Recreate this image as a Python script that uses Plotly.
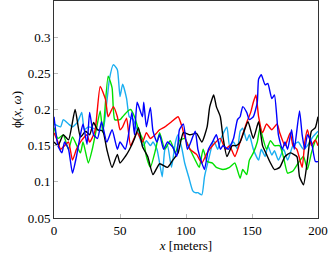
import plotly.graph_objects as go

# ---- data ----
x_black = [0, 3, 7, 11, 16, 20, 24, 27, 30, 33, 37, 40, 44, 48, 50, 54, 57, 61, 64, 67, 71, 75, 80, 86, 90, 94, 98, 103, 108, 112, 116, 118, 121, 123, 126, 128, 131, 135, 138, 141, 144, 147, 151, 155, 158, 161, 164, 167, 171, 175, 179, 184, 186, 189, 192, 195, 198, 200]
y_black = [0.155, 0.15, 0.165, 0.158, 0.2, 0.162, 0.17, 0.165, 0.182, 0.172, 0.17, 0.145, 0.12, 0.138, 0.126, 0.135, 0.144, 0.16, 0.175, 0.149, 0.135, 0.11, 0.125, 0.12, 0.13, 0.14, 0.168, 0.165, 0.167, 0.155, 0.176, 0.204, 0.22, 0.204, 0.19, 0.162, 0.135, 0.15, 0.15, 0.155, 0.17, 0.183, 0.16, 0.183, 0.15, 0.138, 0.126, 0.117, 0.12, 0.135, 0.14, 0.135, 0.107, 0.096, 0.13, 0.17, 0.175, 0.19]

x_red = [0, 3, 5, 8, 11, 14, 17, 20, 25, 27, 31, 35, 39, 41, 45, 48, 50, 52, 55, 58, 63, 67, 70, 73, 77, 80, 84, 89, 94, 97, 99, 103, 108, 112, 116, 121, 126, 130, 133, 137, 141, 146, 149, 151, 153, 155, 158, 161, 165, 169, 171, 175, 179, 181, 184, 188, 190, 192, 195, 198, 200]
y_red = [0.168, 0.155, 0.145, 0.15, 0.155, 0.13, 0.145, 0.155, 0.165, 0.155, 0.17, 0.232, 0.214, 0.19, 0.204, 0.19, 0.172, 0.176, 0.188, 0.15, 0.168, 0.155, 0.168, 0.16, 0.166, 0.172, 0.176, 0.183, 0.19, 0.176, 0.162, 0.145, 0.138, 0.126, 0.14, 0.152, 0.16, 0.145, 0.15, 0.135, 0.155, 0.182, 0.196, 0.21, 0.22, 0.19, 0.168, 0.18, 0.172, 0.18, 0.168, 0.15, 0.168, 0.15, 0.145, 0.12, 0.155, 0.172, 0.15, 0.158, 0.15]

x_green = [0, 3, 7, 11, 14, 20, 22, 26, 29, 32, 35, 37, 41, 44, 46, 50, 52, 56, 58, 61, 64, 68, 70, 73, 77, 80, 84, 88, 92, 95, 99, 103, 107, 110, 113, 116, 120, 123, 128, 133, 137, 141, 143, 146, 148, 151, 154, 156, 158, 161, 164, 167, 171, 174, 177, 181, 185, 189, 192, 195, 198, 200]
y_green = [0.175, 0.16, 0.165, 0.145, 0.162, 0.14, 0.155, 0.126, 0.145, 0.172, 0.198, 0.168, 0.246, 0.23, 0.186, 0.186, 0.19, 0.198, 0.2, 0.19, 0.172, 0.155, 0.135, 0.12, 0.145, 0.168, 0.145, 0.157, 0.14, 0.157, 0.16, 0.145, 0.13, 0.12, 0.145, 0.128, 0.126, 0.12, 0.117, 0.12, 0.126, 0.105, 0.117, 0.11, 0.13, 0.14, 0.155, 0.175, 0.162, 0.145, 0.157, 0.15, 0.15, 0.133, 0.112, 0.115, 0.126, 0.135, 0.117, 0.14, 0.157, 0.165]

x_blue = [0, 3, 6, 8, 11, 14, 17, 20, 22, 25, 27, 30, 33, 36, 40, 44, 48, 50, 54, 56, 59, 61, 63, 67, 68, 70, 73, 75, 78, 80, 83, 86, 90, 93, 95, 98, 101, 103, 107, 109, 112, 114, 117, 120, 123, 126, 128, 132, 136, 139, 141, 143, 146, 148, 151, 154, 155, 157, 160, 162, 165, 167, 170, 173, 175, 177, 180, 182, 186, 188, 190, 192, 195, 198, 200]
y_blue = [0.19, 0.15, 0.14, 0.155, 0.145, 0.112, 0.135, 0.165, 0.18, 0.152, 0.196, 0.165, 0.16, 0.183, 0.155, 0.172, 0.145, 0.155, 0.145, 0.16, 0.196, 0.165, 0.21, 0.19, 0.21, 0.176, 0.203, 0.17, 0.155, 0.165, 0.145, 0.155, 0.148, 0.135, 0.172, 0.18, 0.145, 0.152, 0.17, 0.145, 0.126, 0.117, 0.145, 0.155, 0.165, 0.145, 0.15, 0.145, 0.16, 0.186, 0.19, 0.204, 0.196, 0.186, 0.19, 0.21, 0.242, 0.248, 0.234, 0.236, 0.215, 0.22, 0.165, 0.145, 0.155, 0.145, 0.172, 0.145, 0.198, 0.165, 0.145, 0.165, 0.155, 0.128, 0.128]

x_cyan = [0, 5, 7, 11, 14, 18, 21, 23, 26, 30, 33, 37, 40, 42, 45, 48, 50, 52, 55, 57, 60, 63, 66, 68, 70, 73, 75, 78, 80, 82, 84, 86, 89, 92, 94, 97, 99, 102, 105, 107, 109, 112, 114, 117, 121, 124, 127, 131, 133, 136, 139, 141, 143, 146, 148, 151, 155, 157, 160, 162, 165, 167, 170, 174, 177, 181, 185, 189, 192, 196, 200]
y_cyan = [0.18, 0.176, 0.186, 0.18, 0.176, 0.183, 0.196, 0.172, 0.176, 0.174, 0.172, 0.172, 0.21, 0.242, 0.262, 0.255, 0.218, 0.235, 0.215, 0.19, 0.186, 0.172, 0.155, 0.15, 0.157, 0.15, 0.155, 0.145, 0.126, 0.107, 0.145, 0.15, 0.12, 0.155, 0.165, 0.145, 0.126, 0.107, 0.088, 0.085, 0.085, 0.082, 0.107, 0.13, 0.157, 0.145, 0.162, 0.176, 0.15, 0.155, 0.145, 0.17, 0.174, 0.157, 0.165, 0.145, 0.13, 0.145, 0.135, 0.15, 0.137, 0.143, 0.13, 0.145, 0.13, 0.15, 0.155, 0.145, 0.15, 0.162, 0.17]

x_ticks = [0, 50, 100, 150, 200]
y_ticks = [0.05, 0.1, 0.15, 0.2, 0.25, 0.3]
y_tick_text = ["0.05", "0.1", "0.15", "0.2", "0.25", "0.3"]

series = [
    (x_cyan, y_cyan, "#1aaef0"),
    (x_green, y_green, "#00e000"),
    (x_red, y_red, "#ff0000"),
    (x_black, y_black, "#000000"),
    (x_blue, y_blue, "#0000ff"),
]

fig = go.Figure()
for xs, ys, col in series:
    fig.add_trace(go.Scatter(x=xs, y=ys, mode="lines",
                             line=dict(color=col, width=1.4, shape="spline", smoothing=0.5),
                             showlegend=False, hoverinfo="skip"))

font = dict(family="Liberation Serif", size=13, color="#000000")

fig.update_layout(
    width=332, height=258,
    margin=dict(l=54, r=14, t=1, b=40, autoexpand=False),
    paper_bgcolor="white", plot_bgcolor="white",
    font=font,
)
fig.update_xaxes(
    range=[0, 200], tickvals=x_ticks, ticktext=[str(v) for v in x_ticks],
    showgrid=False, zeroline=False,
    showline=True, linecolor="#333333", linewidth=1, mirror=True,
    ticks="inside", ticklen=4, tickcolor="#bbbbbb",
    title=dict(text="<i>x</i> [meters]", standoff=3, font=font),
    tickfont=font, automargin=False,
)
fig.update_yaxes(
    range=[0.05, 0.35], tickvals=y_ticks, ticktext=y_tick_text,
    showgrid=False, zeroline=False,
    showline=True, linecolor="#333333", linewidth=1, mirror=True,
    ticks="inside", ticklen=4, tickcolor="#bbbbbb",
    title=dict(text="ϕ(<i>x</i>, <i>ω</i>)", standoff=3, font=font),
    tickfont=font, automargin=False,
)

fig.write_html("out.html", config={"displayModeBar": False},
               post_script="document.body.style.margin='0';")
